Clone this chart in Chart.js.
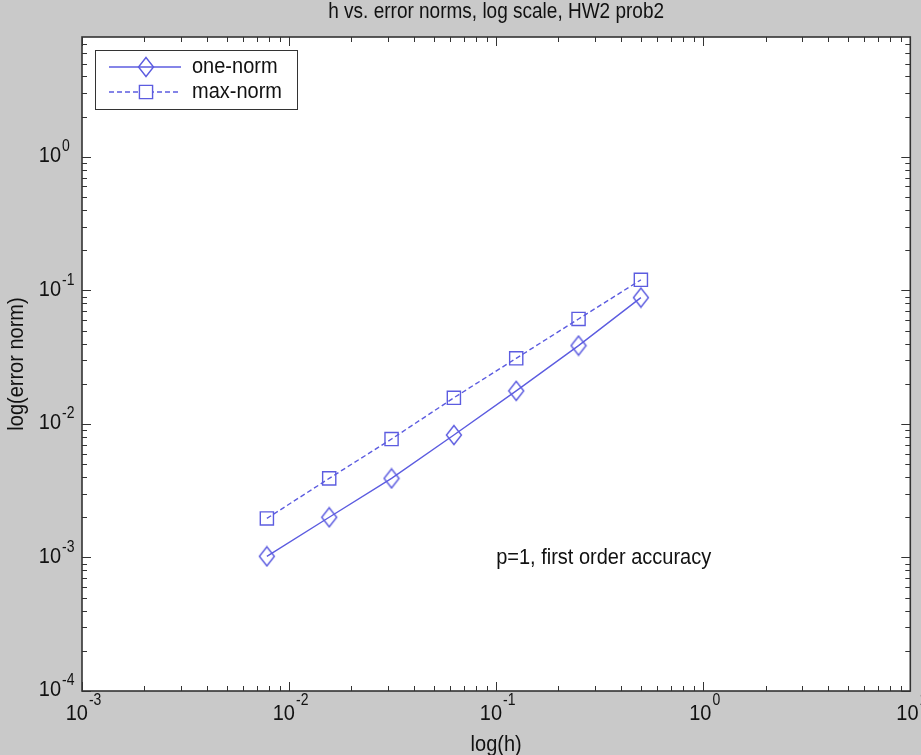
<!DOCTYPE html>
<html>
<head>
<meta charset="utf-8">
<title>h vs. error norms, log scale, HW2 prob2</title>
<script src="https://cdn.jsdelivr.net/npm/chart.js@4.4.0/dist/chart.umd.min.js"></script>
<style>
  html, body { margin: 0; padding: 0; background: #c9c9c9; }
  #wrap { width: 921px; height: 755px; }
</style>
</head>
<body>
<div id="wrap"><canvas id="chart" width="921" height="755"></canvas></div>
<script>
// Data
const hValues = [0.0078125, 0.015625, 0.03125, 0.0625, 0.125, 0.25, 0.5];
const oneNorm = [0.00102, 0.00200, 0.00391, 0.00826, 0.0177, 0.0386, 0.0883];
const maxNorm = [0.00196, 0.00391, 0.00771, 0.0157, 0.0310, 0.0611, 0.120];
const seriesLabels = ['one-norm', 'max-norm'];

// Axis limits and decade tick labels (exponents of 10)
const xRange = [1e-3, 10];
const yRange = [1e-4, 7.9];
const xDecades = [-3, -2, -1, 0, 1];
const yDecades = [-4, -3, -2, -1, 0];

// Texts
const chartTitle = 'h vs. error norms, log scale, HW2 prob2';
const xTitle = 'log(h)';
const yTitle = 'log(error norm)';
const noteText = 'p=1, first order accuracy';
const noteAt = [0.1, 1e-3];

const BLUE = '#5c5ce0';
const AXIS = '#333333';
const FONT = '"Liberation Sans", Arial, Helvetica, sans-serif';
const STRETCH = 1.12; // text in the picture looks a bit taller than wide

// MATLAB diamond marker is a little taller than wide
function makeDiamond() {
  const c = document.createElement('canvas');
  c.width = 18; c.height = 22;
  const g = c.getContext('2d');
  g.strokeStyle = BLUE;
  g.lineWidth = 1.4;
  g.beginPath();
  g.moveTo(9, 1.5); g.lineTo(16.5, 11); g.lineTo(9, 20.5); g.lineTo(1.5, 11);
  g.closePath();
  g.stroke();
  return c;
}
const diamond = makeDiamond();

// draw text with a small vertical stretch
function drawText(ctx, str, x, y, size, align, rotate) {
  ctx.save();
  ctx.translate(x, y);
  if (rotate) ctx.rotate(rotate);
  ctx.scale(1, STRETCH);
  ctx.font = size + 'px ' + FONT;
  ctx.textAlign = align || 'left';
  ctx.textBaseline = 'middle';
  ctx.fillStyle = '#111';
  ctx.fillText(str, 0, 0);
  ctx.restore();
}

function textWidth(ctx, str, size) {
  ctx.font = size + 'px ' + FONT;
  return ctx.measureText(str).width;
}

// MATLAB-like box, inward ticks, power-of-ten labels, legend and texts
const matlabAxes = {
  id: 'matlabAxes',
  beforeDraw(chart) {
    const { ctx, chartArea: a } = chart;
    ctx.save();
    ctx.fillStyle = '#c9c9c9';
    ctx.fillRect(0, 0, chart.width, chart.height);
    ctx.fillStyle = '#ffffff';
    ctx.fillRect(a.left, a.top, a.right - a.left, a.bottom - a.top);
    ctx.restore();
  },
  afterDraw(chart) {
    const { ctx, chartArea: a } = chart;
    const xs = chart.scales.x;
    const ys = chart.scales.y;

    ctx.save();
    ctx.strokeStyle = AXIS;
    ctx.lineWidth = 1;

    // x ticks (bottom and top)
    for (let d = -3; d <= 0; d++) {
      for (let m = 1; m <= 9; m++) {
        const v = m * Math.pow(10, d);
        const px = Math.round(xs.getPixelForValue(v)) + 0.5;
        const len = m === 1 ? 9 : 5;
        ctx.beginPath();
        ctx.moveTo(px, a.bottom); ctx.lineTo(px, a.bottom - len);
        ctx.moveTo(px, a.top); ctx.lineTo(px, a.top + len);
        ctx.stroke();
      }
    }
    // y ticks (left and right)
    for (let d = -4; d <= 0; d++) {
      for (let m = 1; m <= 9; m++) {
        const v = m * Math.pow(10, d);
        if (v > yRange[1]) continue;
        const py = Math.round(ys.getPixelForValue(v)) + 0.5;
        const len = m === 1 ? 9 : 5;
        ctx.beginPath();
        ctx.moveTo(a.left, py); ctx.lineTo(a.left + len, py);
        ctx.moveTo(a.right, py); ctx.lineTo(a.right - len, py);
        ctx.stroke();
      }
    }

    // axes box
    ctx.lineWidth = 1.6;
    ctx.strokeRect(a.left, a.top, a.right - a.left, a.bottom - a.top);
    ctx.restore();

    // x tick labels
    xDecades.forEach(e => {
      const px = xs.getPixelForValue(Math.pow(10, e));
      const w1 = textWidth(ctx, '10', 20);
      const w2 = textWidth(ctx, String(e), 14);
      const x0 = px - (w1 + w2) / 2 + 1;
      drawText(ctx, '10', x0, a.bottom + 23, 20, 'left');
      drawText(ctx, String(e), x0 + w1 + 1, a.bottom + 10, 14, 'left');
    });

    // y tick labels
    yDecades.forEach(e => {
      const py = ys.getPixelForValue(Math.pow(10, e));
      drawText(ctx, '10', a.left - 21, py - 1, 20, 'right');
      drawText(ctx, String(e), a.left - 20, py - 10, 14, 'left');
    });

    // titles
    const cx = (a.left + a.right) / 2;
    drawText(ctx, chartTitle, cx, 12, 19, 'center');
    drawText(ctx, xTitle, cx, 745, 20, 'center');
    drawText(ctx, yTitle, 17, (a.top + a.bottom) / 2, 20, 'center', -Math.PI / 2);

    // annotation placed at a data coordinate
    drawText(ctx, noteText, xs.getPixelForValue(noteAt[0]), ys.getPixelForValue(noteAt[1]), 20, 'left');

    // legend
    const lx = a.left + 13, ly = a.top + 13, lw = 202, lh = 59;
    ctx.save();
    ctx.fillStyle = '#ffffff';
    ctx.fillRect(lx, ly, lw, lh);
    ctx.strokeStyle = AXIS;
    ctx.lineWidth = 1;
    ctx.strokeRect(lx + 0.5, ly + 0.5, lw, lh);
    chart.data.datasets.forEach((ds, i) => {
      const y = ly + 17 + i * 25;
      ctx.save();
      ctx.strokeStyle = ds.borderColor;
      ctx.lineWidth = ds.borderWidth;
      ctx.setLineDash(ds.borderDash || []);
      ctx.beginPath();
      ctx.moveTo(lx + 14, y); ctx.lineTo(lx + 86, y);
      ctx.stroke();
      ctx.setLineDash([]);
      Chart.helpers.drawPoint(ctx, {
        pointStyle: ds.pointStyle,
        radius: ds.pointRadius,
        borderWidth: ds.pointBorderWidth,
        rotation: 0
      }, lx + 51, y);
      ctx.restore();
      drawText(ctx, ds.label, lx + 97, y, 20, 'left');
    });
    ctx.restore();
  }
};

function toPoints(ys) {
  return hValues.map((h, i) => ({ x: h, y: ys[i] }));
}

const ctx = document.getElementById('chart').getContext('2d');
new Chart(ctx, {
  type: 'line',
  data: {
    datasets: [
      {
        label: seriesLabels[0],
        data: toPoints(oneNorm),
        borderColor: BLUE,
        borderWidth: 1.4,
        pointStyle: diamond,
        pointRadius: 9,
        pointBorderColor: BLUE,
        pointBackgroundColor: 'rgba(0,0,0,0)',
        pointBorderWidth: 1.4,
        tension: 0,
        fill: false
      },
      {
        label: seriesLabels[1],
        data: toPoints(maxNorm),
        borderColor: BLUE,
        borderWidth: 1.4,
        borderDash: [5, 3],
        pointStyle: 'rect',
        pointRadius: 9.3,
        pointBorderColor: BLUE,
        pointBackgroundColor: 'rgba(0,0,0,0)',
        pointBorderWidth: 1.4,
        tension: 0,
        fill: false
      }
    ]
  },
  options: {
    responsive: false,
    animation: false,
    devicePixelRatio: 1,
    layout: { padding: { left: 82, right: 7, top: 37, bottom: 64 } },
    plugins: {
      legend: { display: false },
      title: { display: false },
      tooltip: { enabled: false }
    },
    scales: {
      x: { type: 'logarithmic', min: xRange[0], max: xRange[1], display: false },
      y: { type: 'logarithmic', min: yRange[0], max: yRange[1], display: false }
    }
  },
  plugins: [matlabAxes]
});
</script>
</body>
</html>
